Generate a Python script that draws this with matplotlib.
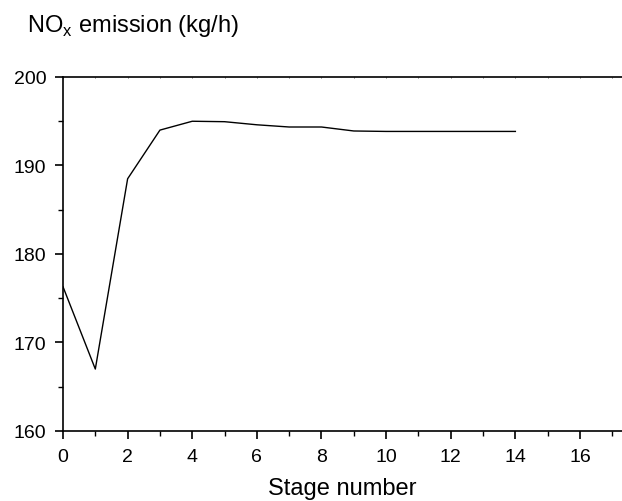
import matplotlib
matplotlib.use("Agg")
import matplotlib.pyplot as plt
from matplotlib.ticker import MultipleLocator

plt.rcParams['font.family'] = ['Liberation Sans', 'DejaVu Sans']

stages = [0, 1, 2, 3, 4, 5, 6, 7, 8, 9, 10, 11, 12, 13, 14]
nox = [176.3, 167.0, 188.5, 194.0, 195.0, 194.95, 194.6, 194.35, 194.35, 193.9,
       193.85, 193.85, 193.85, 193.85, 193.85]
xticks = [0, 2, 4, 6, 8, 10, 12, 14, 16]
yticks = [160, 170, 180, 190, 200]

fig = plt.figure(figsize=(6.22, 5.02), dpi=100)
ax = fig.add_axes([63/622, 1-432/502, 1-63/622, (432-78)/502])
ax.plot(stages, nox, color='black', lw=1.0)
ax.set_xlim(0, 17.3)
ax.set_ylim(160, 200)
ax.set_xticks(xticks)
ax.set_yticks(yticks)
ax.xaxis.set_minor_locator(MultipleLocator(1))
ax.yaxis.set_minor_locator(MultipleLocator(5))
ax.spines['right'].set_visible(False)
for s in ['left', 'bottom', 'top']:
    ax.spines[s].set_linewidth(1.2)
ax.tick_params(axis='both', which='major', direction='out', length=6, width=1.2,
               labelsize=14)
ax.tick_params(axis='both', which='minor', direction='out', length=3.5, width=1.0)
ax.tick_params(axis='x', which='major', pad=6)
ax.tick_params(axis='y', which='major', pad=6)
# faint top tick marks
for xv in range(0, 18):
    ax.plot([xv, xv], [200, 199.85], color='#999999', lw=0.6, clip_on=False)
ax.set_xlabel('Stage number', fontsize=17, labelpad=9)
fig.text(27/622, 1-26/502, 'NO$_\\mathregular{x}$ emission (kg/h)', fontsize=17,
         ha='left', va='center')
fig.savefig('out.png', dpi=100)
